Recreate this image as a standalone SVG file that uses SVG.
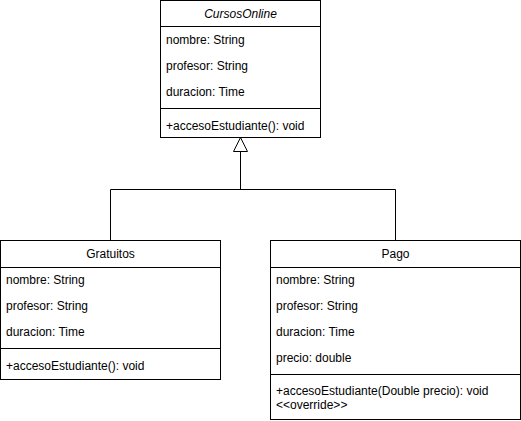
<svg xmlns="http://www.w3.org/2000/svg" width="521" height="421" viewBox="0 0 521 421">
<style>
.box{fill:#fff;stroke:#000;stroke-width:1}
.ln{stroke:#000;stroke-width:1;fill:none}
text{font-family:"Liberation Sans",Arial,Helvetica,sans-serif;font-size:12px;fill:#000}
.c{text-anchor:middle}
.i{font-style:italic}
</style>
<rect width="521" height="421" fill="#fff"/>
<g id="connectors">
<path class="ln" d="M110.5 240.5 V189.5 H395.5 V240.5"/>
<path class="ln" d="M240.5 189.5 V151.5"/>
<path class="box" d="M240.5 137.5 L247.5 151.5 L233.5 151.5 Z"/>
</g>
<g id="CursosOnline">
<rect class="box" x="160.5" y="0.5" width="160" height="137"/>
<line class="ln" x1="160.5" y1="26.5" x2="320.5" y2="26.5"/>
<line class="ln" x1="160.5" y1="108.5" x2="320.5" y2="108.5"/>
<text class="c i" x="240.5" y="18">CursosOnline</text>
<text x="166" y="44">nombre: String</text>
<text x="166" y="70">profesor: String</text>
<text x="166" y="96">duracion: Time</text>
<text x="166" y="130">+accesoEstudiante(): void</text>
</g>
<g id="Gratuitos">
<rect class="box" x="0.5" y="240.5" width="220" height="139"/>
<line class="ln" x1="0.5" y1="267.5" x2="220.5" y2="267.5"/>
<line class="ln" x1="0.5" y1="348.5" x2="220.5" y2="348.5"/>
<text class="c" x="110.5" y="258">Gratuitos</text>
<text x="6" y="284">nombre: String</text>
<text x="6" y="310">profesor: String</text>
<text x="6" y="336">duracion: Time</text>
<text x="6" y="370">+accesoEstudiante(): void</text>
</g>
<g id="Pago">
<rect class="box" x="270.5" y="240.5" width="250" height="179"/>
<line class="ln" x1="270.5" y1="267.5" x2="520.5" y2="267.5"/>
<line class="ln" x1="270.5" y1="374.5" x2="520.5" y2="374.5"/>
<text class="c" x="395.5" y="258">Pago</text>
<text x="276" y="284">nombre: String</text>
<text x="276" y="310">profesor: String</text>
<text x="276" y="336">duracion: Time</text>
<text x="276" y="362">precio: double</text>
<text x="276" y="395">+accesoEstudiante(Double precio): void</text>
<text x="276" y="409">&lt;&lt;override&gt;&gt;</text>
</g>
</svg>
